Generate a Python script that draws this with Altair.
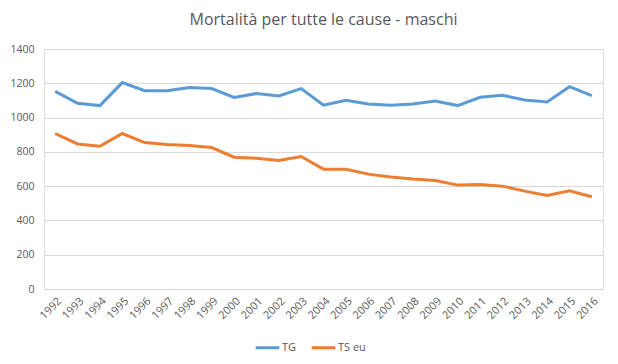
import altair as alt
import pandas as pd

years = [str(y) for y in range(1992, 2017)]
tg = [1153, 1083, 1070, 1204, 1157, 1157, 1175, 1169, 1117, 1140, 1126, 1169,
      1072, 1101, 1079, 1072, 1079, 1097, 1070, 1118, 1130, 1103, 1091, 1180, 1128]
ts_eu = [907, 846, 833, 907, 854, 843, 837, 825, 769, 763, 750, 773,
         699, 699, 670, 654, 641, 633, 606, 610, 600, 571, 546, 573, 538]
series_names = ["TG", "TS eu"]
colors = ["#5B9BD5", "#ED7D31"]
y_ticks = [0, 200, 400, 600, 800, 1000, 1200, 1400]

rows = []
for i, yr in enumerate(years):
    rows.append({"anno": yr, "serie": series_names[0], "valore": tg[i]})
    rows.append({"anno": yr, "serie": series_names[1], "valore": ts_eu[i]})
df = pd.DataFrame(rows)

FONT = "Open Sans"
GRAY = "#595959"

chart = alt.Chart(df).mark_line(strokeWidth=3).encode(
    x=alt.X("anno:O", sort=years, title=None,
            axis=alt.Axis(labelAngle=-45, labelFontSize=11, labelColor=GRAY,
                          labelFont=FONT, ticks=False, domain=False, grid=False,
                          labelPadding=6)),
    y=alt.Y("valore:Q", title=None,
            scale=alt.Scale(domain=[0, 1400], nice=False),
            axis=alt.Axis(values=y_ticks, format="d", labelFontSize=10.5, labelColor=GRAY,
                          labelFont=FONT, ticks=False, domain=False,
                          gridColor="#D9D9D9", gridWidth=1, labelPadding=10)),
    color=alt.Color("serie:N", scale=alt.Scale(domain=series_names, range=colors),
                    legend=alt.Legend(title=None, orient="none", legendX=210, legendY=285,
                                      direction="horizontal", symbolType="stroke",
                                      symbolStrokeWidth=3, symbolSize=560,
                                      labelFont=FONT, labelFontSize=11, labelColor=GRAY,
                                      columnPadding=8, labelOffset=1)),
).properties(
    width=559, height=240,
    title=alt.TitleParams("Mortalità per tutte le cause - maschi", font=FONT,
                          fontSize=16, fontWeight="normal", color=GRAY,
                          anchor="middle", offset=16),
    autosize=alt.AutoSizeParams(type="none"),
    padding={"left": 36, "top": 41, "right": 7, "bottom": 66},
).configure_view(stroke=None).configure(background="white")

chart.save("out.html", embed_options={"renderer": "svg", "actions": False})
